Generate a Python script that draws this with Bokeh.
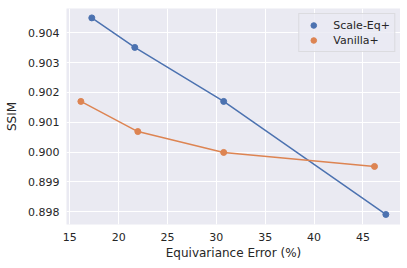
from bokeh.plotting import figure
from bokeh.models import FixedTicker, NumeralTickFormatter, Range1d
from bokeh.embed import file_html
from bokeh.resources import INLINE

scale_x = [17.25, 21.65, 30.75, 47.35]
scale_y = [0.90450, 0.90351, 0.90170, 0.89791]
vanilla_x = [16.13, 21.96, 30.75, 46.19]
vanilla_y = [0.90170, 0.90069, 0.89999, 0.89952]
x_ticks = [15, 20, 25, 30, 35, 40, 45]
y_ticks = [0.898, 0.899, 0.900, 0.901, 0.902, 0.903, 0.904]

BLUE = "#4c72b0"
ORANGE = "#dd8452"
FONT = "DejaVu Sans"

p = figure(frame_width=334, frame_height=216, output_backend="svg", toolbar_location=None,
           x_range=Range1d(14.66, 48.85), y_range=Range1d(0.897574, 0.904815),
           min_border_left=66, min_border_right=0, min_border_top=8, min_border_bottom=36)
p.background_fill_color = "#eaeaf2"
p.border_fill_color = "white"
p.outline_line_color = None

for ax in (p.xaxis, p.yaxis):
    ax.axis_line_color = None
    ax.major_tick_line_color = None
    ax.minor_tick_line_color = None
    ax.major_tick_out = 0
    ax.major_tick_in = 0
    ax.minor_tick_out = 0
    ax.minor_tick_in = 0
    ax.major_label_text_font = FONT
    ax.major_label_text_font_size = "11px"
    ax.major_label_text_color = "#262626"
    ax.axis_label_text_font = FONT
    ax.axis_label_text_font_size = "12px"
    ax.axis_label_text_font_style = "normal"
    ax.axis_label_text_color = "#262626"

p.xaxis.ticker = FixedTicker(ticks=x_ticks)
p.yaxis.ticker = FixedTicker(ticks=y_ticks)
p.yaxis.formatter = NumeralTickFormatter(format="0.000")
p.xaxis.axis_label = "Equivariance Error (%)"
p.yaxis.axis_label = "SSIM"
p.xaxis.major_label_standoff = 8
p.yaxis.major_label_standoff = 7
p.xaxis.axis_label_standoff = 2
p.yaxis.axis_label_standoff = 6

p.xgrid.grid_line_color = "white"
p.ygrid.grid_line_color = "white"
p.xgrid.grid_line_width = 1
p.ygrid.grid_line_width = 1

p.line(scale_x, scale_y, line_color=BLUE, line_width=1.5)
p.line(vanilla_x, vanilla_y, line_color=ORANGE, line_width=1.5)
p.scatter(scale_x, scale_y, size=6, fill_color=BLUE, line_color=BLUE, legend_label="Scale-Eq+")
p.scatter(vanilla_x, vanilla_y, size=6, fill_color=ORANGE, line_color=ORANGE, legend_label="Vanilla+")

lg = p.legend[0]
lg.location = "top_right"
lg.margin = 5
lg.padding = 4
lg.spacing = 1
lg.label_text_font = FONT
lg.label_text_font_size = "11px"
lg.label_text_color = "#262626"
lg.label_height = 14
lg.glyph_height = 14
lg.glyph_width = 20
lg.label_standoff = 10
lg.background_fill_color = "#eaeaf2"
lg.background_fill_alpha = 0.8
lg.border_line_color = "#cccccc"
lg.border_line_width = 1

open("out.html", "w").write(file_html(p, INLINE))
